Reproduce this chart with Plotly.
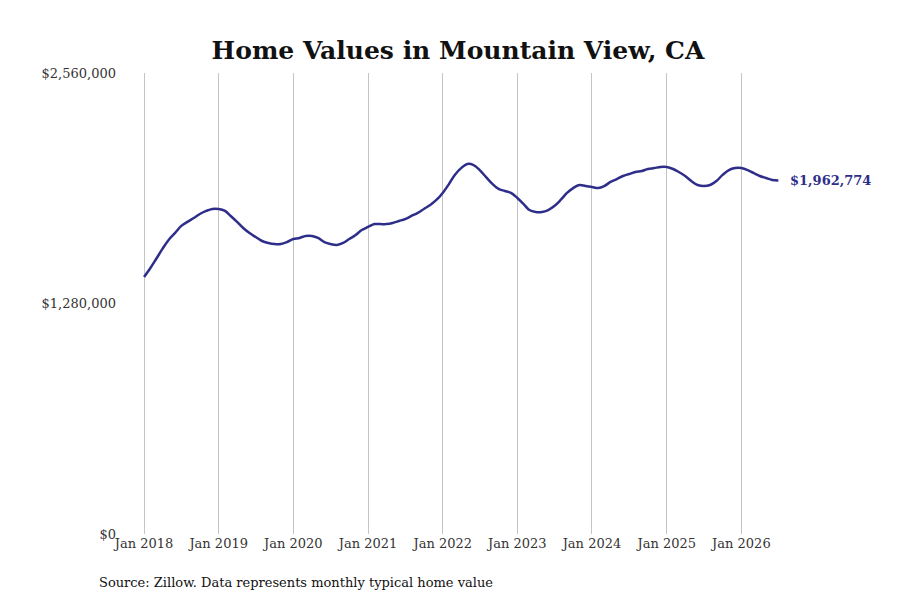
import plotly.graph_objects as go
import pandas as pd

# Monthly typical home value, thousands of dollars
values_2018 = [1427, 1477, 1527, 1583, 1633, 1671, 1710, 1733, 1755, 1777, 1794, 1805]
values_2019 = [1805, 1794, 1766, 1733, 1699, 1671, 1649, 1627, 1616, 1610, 1610, 1621]
values_2020 = [1638, 1644, 1655, 1655, 1644, 1621, 1610, 1605, 1616, 1638, 1660, 1688]
values_2021 = [1705, 1721, 1721, 1721, 1727, 1738, 1749, 1766, 1783, 1805, 1827, 1855]
values_2022 = [1894, 1944, 1994, 2032, 2055, 2049, 2021, 1982, 1944, 1916, 1905, 1894]
values_2023 = [1866, 1832, 1799, 1788, 1788, 1799, 1821, 1855, 1894, 1921, 1938, 1932]
values_2024 = [1927, 1921, 1932, 1955, 1971, 1988, 1999, 2010, 2016, 2027, 2032, 2038]
values_2025 = [2038, 2027, 2010, 1988, 1960, 1938, 1932, 1938, 1960, 1994, 2021, 2032]
values_2026 = [2032, 2021, 2005, 1988, 1977, 1966, 1962.774]

values = [v * 1000 for v in (values_2018 + values_2019 + values_2020 + values_2021 + values_2022
                             + values_2023 + values_2024 + values_2025 + values_2026)]
dates = pd.date_range("2018-01-01", periods=len(values), freq="MS")

tick_dates = [f"{y}-01-01" for y in range(2018, 2027)]
tick_labels = [f"Jan {y}" for y in range(2018, 2027)]

line_color = "#2e2e8a"
font = "DejaVu Serif"

fig = go.Figure()
fig.add_trace(go.Scatter(x=dates, y=values, mode="lines",
                         line=dict(color=line_color, width=2.5, shape="spline"),
                         showlegend=False))

# End-of-line value label
fig.add_annotation(x=dates[-1], y=values[-1], text=f"<b>${values[-1]:,.0f}</b>",
                   showarrow=False, xanchor="left", xshift=10,
                   font=dict(family=font, size=13, color=line_color))

fig.add_annotation(x=0, y=0, xref="paper", yref="paper",
                   text="Source: Zillow. Data represents monthly typical home value",
                   showarrow=False, xanchor="left", yanchor="middle", xshift=-26, yshift=-48,
                   font=dict(family=font, size=13, color="#111"))

fig.update_layout(
    width=900, height=600,
    paper_bgcolor="white", plot_bgcolor="white",
    margin=dict(l=115, r=110, t=65, b=74),
    font=dict(family=font, size=13, color="#333"),
    title=dict(text="<b>Home Values in Mountain View, CA</b>", x=0.5, y=0.93,
               xanchor="center", yanchor="middle", font=dict(family=font, size=25, color="#111")),
    xaxis=dict(range=["2017-09-20", "2026-10-05"], tickvals=tick_dates, ticktext=tick_labels,
               showgrid=True, gridcolor="#c4c4c4", gridwidth=1, zeroline=False,
               showline=False, ticks=""),
    yaxis=dict(range=[0, 2560000], tickvals=[0, 1280000, 2560000],
               ticktext=["$0", "$1,280,000", "$2,560,000"], ticklabelstandoff=6,
               showgrid=False, zeroline=False, showline=False, ticks=""),
)

fig.write_html("out.html")
